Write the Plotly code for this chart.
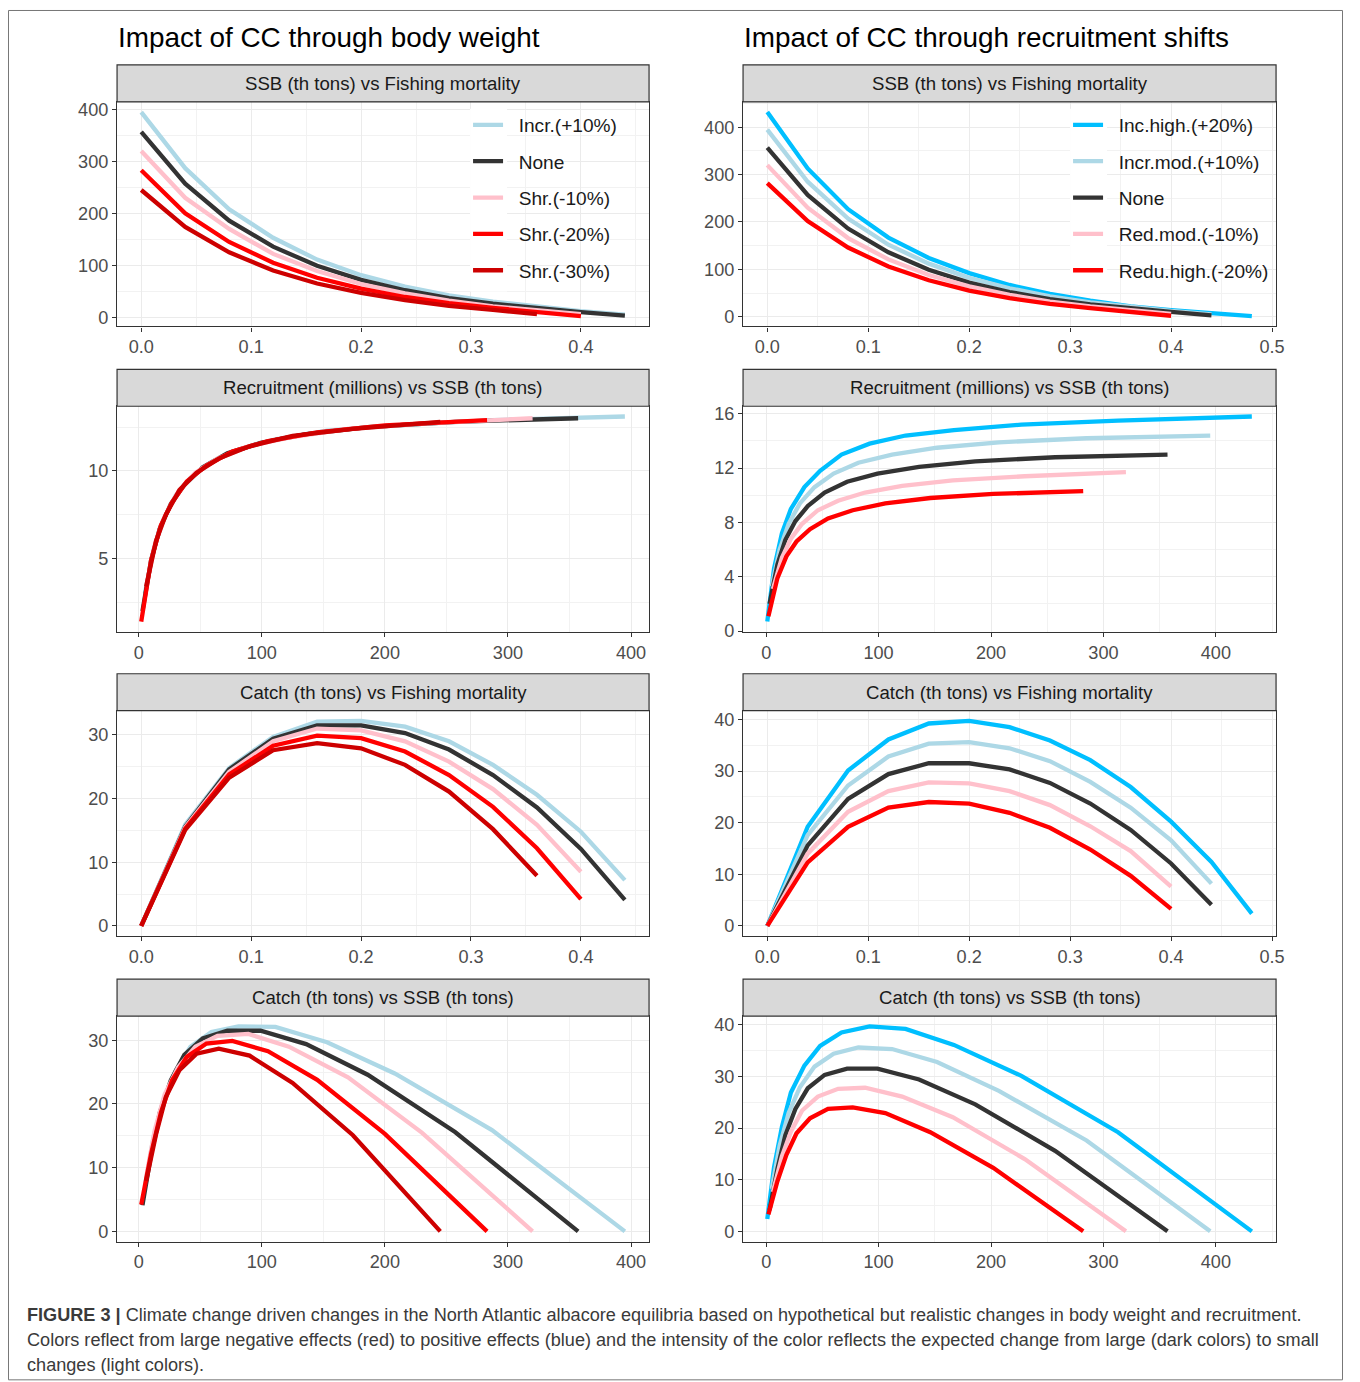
import plotly.graph_objects as go

# Page body has an 8px margin; the photographed page comes out scaled by ~0.9933,
# so target-pixel coordinates are mapped through that factor into figure space.
OFF = 8
S = 0.9933
W, H = 1360 - 2 * OFF, 1384
FONT = "Liberation Sans, Arial, sans-serif"

# ---------------- data ----------------
F_grid = [0.00, 0.04, 0.08, 0.12, 0.16, 0.20, 0.24, 0.28, 0.32, 0.36, 0.40, 0.44, 0.48]

# Body weight scenarios (left column)
bw_names = ["Incr.(+10%)", "None", "Shr.(-10%)", "Shr.(-20%)", "Shr.(-30%)"]
bw_colors = ["#ADD8E6", "#333333", "#FFC0CB", "#FF0000", "#CD0000"]

bw_incr_ssb = [395, 287, 208, 153, 111, 81, 59, 42, 30, 20, 12, 5]
bw_incr_catch = [0, 15.9, 24.8, 29.7, 32.1, 32.2, 31.3, 29.0, 25.3, 20.6, 14.8, 7.2]
bw_incr_rec = [13.1, 12.9, 12.6, 12.3, 11.8, 11.2, 10.5, 9.6, 8.6, 7.2, 5.5, 3.0]

none_ssb = [357, 257, 186, 136, 99, 72, 52, 37, 26, 17, 10, 3]
none_catch = [0, 15.6, 24.6, 29.4, 31.5, 31.5, 30.3, 27.7, 23.7, 18.6, 12.1, 4.1]
none_rec = [13.0, 12.8, 12.5, 12.1, 11.6, 11.0, 10.2, 9.2, 8.1, 6.7, 4.9, 2.0]

bw_shr10_ssb = [320, 230, 170, 122, 89, 64, 46, 32, 21, 13, 6]
bw_shr10_catch = [0, 15.5, 24.2, 29.0, 31.0, 30.7, 29.0, 25.8, 21.5, 15.9, 8.5]
bw_shr10_rec = [13.0, 12.7, 12.4, 11.9, 11.4, 10.7, 9.9, 8.8, 7.4, 5.8, 3.4]

bw_shr20_ssb = [283, 200, 145, 105, 76, 55, 39, 27, 18, 10, 2]
bw_shr20_catch = [0, 15.3, 23.8, 28.3, 29.9, 29.5, 27.4, 23.7, 18.7, 12.2, 4.2]
bw_shr20_rec = [12.9, 12.6, 12.2, 11.7, 11.1, 10.3, 9.4, 8.2, 6.9, 4.9, 1.4]

bw_shr30_ssb = [245, 174, 125, 90, 65, 47, 33, 22, 14, 6]
bw_shr30_catch = [0, 15.1, 23.3, 27.6, 28.7, 27.9, 25.3, 21.1, 15.2, 7.9]
bw_shr30_rec = [12.8, 12.4, 12.0, 11.4, 10.7, 9.9, 8.9, 7.5, 6.0, 3.4]

# Recruitment scenarios (right column)
rc_names = ["Inc.high.(+20%)", "Incr.mod.(+10%)", "None", "Red.mod.(-10%)", "Redu.high.(-20%)"]
rc_colors = ["#00BFFF", "#ADD8E6", "#333333", "#FFC0CB", "#FF0000"]

rc_inch_ssb = [432, 313, 227, 167, 124, 92, 67, 48, 34, 22, 14, 7, 1]
rc_inch_catch = [0, 19.2, 30.1, 36.1, 39.2, 39.7, 38.5, 35.9, 32.1, 26.9, 20.2, 12.4, 2.4]
rc_inch_rec = [15.8, 15.5, 15.2, 14.8, 14.4, 13.8, 13.0, 11.8, 10.6, 9.0, 7.2, 4.6, 0.7]

rc_incm_ssb = [395, 285, 207, 152, 112, 82, 60, 43, 30, 20, 12, 5]
rc_incm_catch = [0, 17.6, 27.2, 32.8, 35.3, 35.6, 34.4, 31.9, 27.9, 22.9, 16.6, 8.2]
rc_incm_rec = [14.4, 14.2, 13.9, 13.5, 13.0, 12.4, 11.6, 10.6, 9.4, 7.9, 6.0, 3.3]

rc_redm_ssb = [320, 230, 166, 121, 88, 64, 46, 32, 22, 14, 6]
rc_redm_catch = [0, 14.0, 22.1, 26.1, 27.8, 27.6, 26.1, 23.4, 19.3, 14.5, 7.6]
rc_redm_rec = [11.7, 11.4, 11.1, 10.7, 10.2, 9.6, 8.9, 7.9, 6.8, 5.4, 3.1]

rc_redh_ssb = [282, 202, 146, 106, 77, 55, 39, 27, 18, 10, 2]
rc_redh_catch = [0, 12.3, 19.2, 22.9, 24.0, 23.7, 21.9, 19.0, 14.8, 9.7, 3.3]
rc_redh_rec = [10.3, 10.1, 9.8, 9.4, 8.9, 8.3, 7.5, 6.6, 5.5, 3.9, 1.1]

col_titles = ["Impact of CC through body weight", "Impact of CC through recruitment shifts"]
strip_titles = ["SSB (th tons) vs Fishing mortality",
                "Recruitment (millions) vs SSB (th tons)",
                "Catch (th tons) vs Fishing mortality",
                "Catch (th tons) vs SSB (th tons)"]

caption_lines = [
    "<b>FIGURE 3 |</b> Climate change driven changes in the North Atlantic albacore equilibria based on hypothetical but realistic changes in body weight and recruitment.",
    "Colors reflect from large negative effects (red) to positive effects (blue) and the intensity of the color reflects the expected change from large (dark colors) to small",
    "changes (light colors).",
]

# ---------------- assemble ----------------
def scen(ssb, catch, rec):
    return {"F": F_grid[:len(ssb)], "SSB": ssb, "Catch": catch, "Rec": rec}

columns = [
    {"names": bw_names, "colors": bw_colors,
     "data": [scen(bw_incr_ssb, bw_incr_catch, bw_incr_rec),
              scen(none_ssb, none_catch, none_rec),
              scen(bw_shr10_ssb, bw_shr10_catch, bw_shr10_rec),
              scen(bw_shr20_ssb, bw_shr20_catch, bw_shr20_rec),
              scen(bw_shr30_ssb, bw_shr30_catch, bw_shr30_rec)],
     "legend": "legend", "rec_dtick": 5},
    {"names": rc_names, "colors": rc_colors,
     "data": [scen(rc_inch_ssb, rc_inch_catch, rc_inch_rec),
              scen(rc_incm_ssb, rc_incm_catch, rc_incm_rec),
              scen(none_ssb, none_catch, none_rec),
              scen(rc_redm_ssb, rc_redm_catch, rc_redm_rec),
              scen(rc_redh_ssb, rc_redh_catch, rc_redh_rec)],
     "legend": "legend2", "rec_dtick": 4},
]

rows = [("F", "SSB"), ("SSB", "Rec"), ("F", "Catch"), ("SSB", "Catch")]
col_px = [(117, 649), (743, 1276)]
row_px = [(100, 325), (405, 631), (710, 936), (1016, 1242)]
strip_px = [(63, 100), (368, 405), (673, 710), (979, 1016)]

def fx(p):
    return p / S - OFF

def fy(p):
    return p / S - OFF

def px(p):
    return fx(p) / W

def py(p):
    return 1 - fy(p) / H

def fs(size):
    return size / S

def expand(vals):
    lo, hi = min(vals), max(vals)
    pad = 0.05 * (hi - lo)
    return [lo - pad, hi + pad]

dticks = {"F": (0.1, 0.05, ".1f"), "SSB": (100, 50, "d"), "Catch": (10, 5, "d")}

fig = go.Figure()
layout = {}
shapes = []
annotations = []

axis_common = dict(
    showline=True, mirror=True, linecolor="#333333", linewidth=1.2,
    ticks="outside", ticklen=4, tickwidth=1.2, tickcolor="#333333",
    showgrid=True, gridcolor="#EBEBEB", gridwidth=1.3, zeroline=False,
    tickfont=dict(family=FONT, size=fs(18), color="#4D4D4D"),
)

NBSP = "\u00a0\u00a0"

for c, col in enumerate(columns):
    for r, (xk, yk) in enumerate(rows):
        n = r * 2 + c + 1
        xname = "xaxis" if n == 1 else f"xaxis{n}"
        yname = "yaxis" if n == 1 else f"yaxis{n}"
        xref = "x" if n == 1 else f"x{n}"
        yref = "y" if n == 1 else f"y{n}"
        allx, ally = [], []
        for i, d in enumerate(col["data"]):
            allx += d[xk]
            ally += d[yk]
            fig.add_trace(go.Scatter(
                x=d[xk], y=d[yk], mode="lines",
                line=dict(color=col["colors"][i], width=4.3),
                name=NBSP + col["names"][i], legendgroup=f"{c}-{i}",
                showlegend=(r == 0), legend=col["legend"],
                xaxis=xref, yaxis=yref, hoverinfo="x+y+name",
            ))
        xd_, xm, xf = dticks[xk]
        if yk == "Rec":
            yd_ = col["rec_dtick"]
            ym = yd_ / 2
            yf = "d"
        else:
            yd_, ym, yf = dticks[yk]
        ax = dict(axis_common)
        ax.update(domain=[px(col_px[c][0]), px(col_px[c][1])], range=expand(allx), anchor=yref,
                  tick0=0, dtick=xd_, tickformat=xf,
                  minor=dict(tick0=0, dtick=xm, showgrid=True, gridcolor="#F2F2F2", gridwidth=0.8))
        ay = dict(axis_common)
        ay.update(domain=[py(row_px[r][1]), py(row_px[r][0])], range=expand(ally), anchor=xref,
                  tick0=0, dtick=yd_, tickformat=yf,
                  minor=dict(tick0=0, dtick=ym, showgrid=True, gridcolor="#F2F2F2", gridwidth=0.8))
        layout[xname] = ax
        layout[yname] = ay

        # strip
        st, sb = strip_px[r]
        shapes.append(dict(type="rect", xref="paper", yref="paper",
                           x0=px(col_px[c][0]), x1=px(col_px[c][1]),
                           y0=py(sb), y1=py(st),
                           fillcolor="#D9D9D9", line=dict(color="#333333", width=1.2),
                           layer="above"))
        annotations.append(dict(xref="paper", yref="paper",
                                x=px((col_px[c][0] + col_px[c][1]) / 2),
                                y=py((st + sb) / 2),
                                text=strip_titles[r], showarrow=False,
                                xanchor="center", yanchor="middle",
                                font=dict(family=FONT, size=fs(18.5), color="#1A1A1A")))

    annotations.append(dict(xref="paper", yref="paper", x=px(col_px[c][0] - 1), y=py(35.5),
                            text=col_titles[c], showarrow=False, xanchor="left", yanchor="middle",
                            font=dict(family=FONT, size=fs(27.7), color="#000000")))

# white legend key backgrounds
for kx in (470, 1070):
    shapes.append(dict(type="rect", xref="paper", yref="paper",
                       x0=px(kx), x1=px(kx + 37), y0=py(290), y1=py(107),
                       fillcolor="#FFFFFF", line=dict(width=0), layer="above"))

# outer frame
shapes.append(dict(type="rect", xref="paper", yref="paper",
                   x0=0.5 / W, x1=1 - 0.5 / W, y0=py(1380.5), y1=1 - 0.5 / H,
                   fillcolor="rgba(0,0,0,0)", line=dict(color="#777777", width=1)))

for i, (line, yc) in enumerate(zip(caption_lines, [1316, 1341, 1366])):
    annotations.append(dict(xref="paper", yref="paper", x=px(25), y=py(yc),
                            text=line, showarrow=False, xanchor="left", yanchor="middle",
                            font=dict(family=FONT, size=fs(18), color="#3A3A3A")))

legend_common = dict(xanchor="left", yanchor="top", bgcolor="rgba(0,0,0,0)",
                     font=dict(family=FONT, size=fs(19), color="#1A1A1A"),
                     tracegroupgap=8.5, itemwidth=30, borderwidth=0)

fig.update_layout(
    width=W, height=H, margin=dict(l=0, r=0, t=0, b=0),
    paper_bgcolor="white", plot_bgcolor="white",
    shapes=shapes, annotations=annotations,
    legend=dict(legend_common, x=px(468), y=py(104)),
    legend2=dict(legend_common, x=px(1068), y=py(104)),
    font=dict(family=FONT),
    **layout,
)

fig.write_html("out.html", config={"displayModeBar": False})
